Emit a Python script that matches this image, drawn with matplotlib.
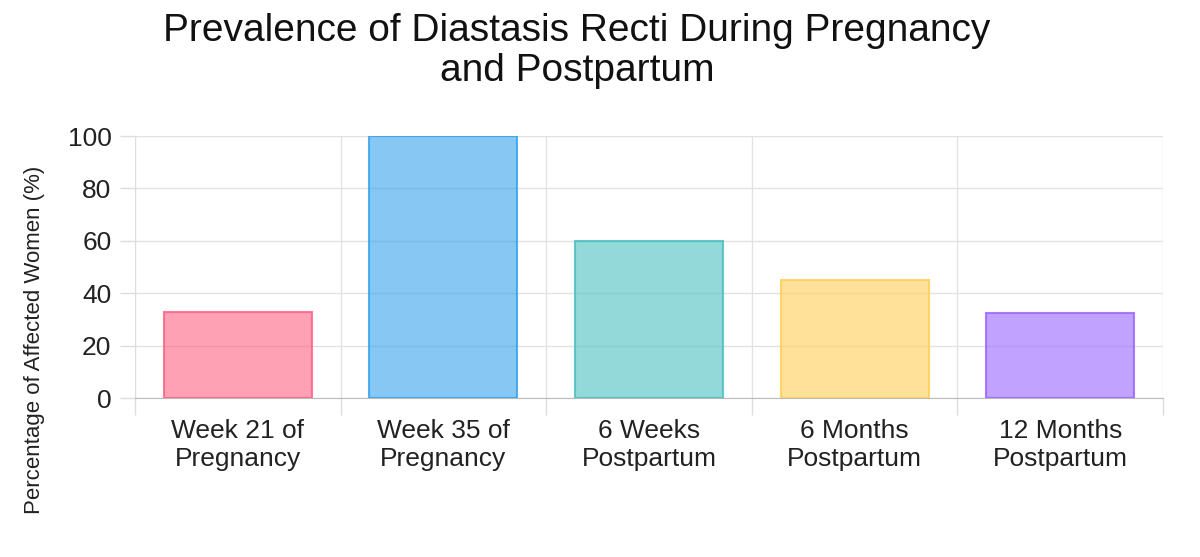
import matplotlib
matplotlib.use("Agg")
from matplotlib import pyplot as plt
import numpy as np

categories = ["Week 21 of\nPregnancy", "Week 35 of\nPregnancy", "6 Weeks\nPostpartum",
              "6 Months\nPostpartum", "12 Months\nPostpartum"]
values = [33, 100, 60, 45, 32.5]
edge_colors = ["#FF6384", "#36A2EB", "#4BC0C0", "#FFCE56", "#9966FF"]

plt.rcParams['font.family'] = ['Liberation Sans', 'DejaVu Sans']

fig = plt.figure(figsize=(12, 5.57), dpi=100)
ax = fig.add_axes([135/1200, 1 - 398/557, 1028/1200, 262/557])

x = np.arange(len(categories))
fills = [matplotlib.colors.to_rgba(c, 0.6) for c in edge_colors]
edges = [matplotlib.colors.to_rgba(c, 0.85) for c in edge_colors]
ax.bar(x, values, width=0.72, color=fills, edgecolor=edges, linewidth=1.5, zorder=3)

ax.set_xlim(-0.5, len(categories) - 0.5)
ax.set_ylim(0, 100)
ax.set_yticks(range(0, 101, 20))
ax.set_xticks(x)
ax.set_xticklabels(categories, fontsize=19, linespacing=1.2)
ax.set_xticks(np.arange(-0.5, len(categories), 1), minor=True)

ax.tick_params(axis='x', which='major', length=0, pad=15, colors='#222222')
ax.tick_params(axis='x', which='minor', length=12, color='#dddddd', width=1)
ax.tick_params(axis='y', length=11, color='#dddddd', width=1, pad=6, labelsize=19, labelcolor='#222222')

ax.grid(axis='y', color='#e2e2e2', linewidth=1, zorder=0)
ax.grid(axis='x', which='minor', color='#e2e2e2', linewidth=1, zorder=0)

for s in ['top', 'right']:
    ax.spines[s].set_visible(False)
ax.spines['left'].set_color('#dddddd')
ax.spines['bottom'].set_color('#bbbbbb')

fig.text(577/1200, 1 - 51/557, "Prevalence of Diastasis Recti During Pregnancy\nand Postpartum",
         ha='center', va='center', fontsize=28, linespacing=1.12, color='#111111')
fig.text(35/1200, 1 - 340/557, "Percentage of Affected Women (%)", rotation=90,
         ha='center', va='center', fontsize=16, color='#222222')

fig.savefig("out.png", dpi=100, facecolor='white')
